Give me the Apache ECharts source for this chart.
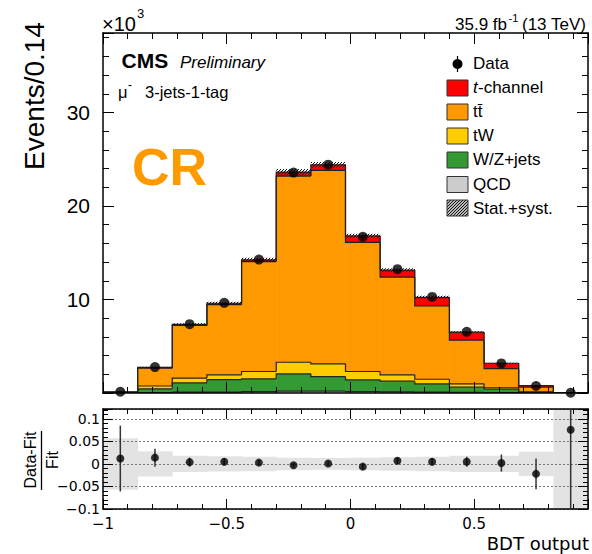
<!DOCTYPE html>
<html><head><meta charset="utf-8">
<script src="https://cdn.jsdelivr.net/npm/echarts@6/dist/echarts.min.js"></script>
<style>html,body{margin:0;padding:0;background:#fff}#c{width:592px;height:554px}</style>
</head><body><div id="c"></div>
<script>
// ---------------- data (values in units of 10^3 events) ----------------
const binEdges   = [-1, -0.86, -0.72, -0.58, -0.44, -0.30, -0.16, -0.02, 0.12, 0.26, 0.40, 0.54, 0.68, 0.82, 0.96];
const dataEvents = [0.13, 2.77, 7.36, 9.64, 14.27, 23.57, 24.42, 16.70, 13.24, 10.28, 6.54, 3.16, 0.75, 0.03];
const qcd        = [0.00, 0.05, 0.10, 0.10, 0.15, 0.20, 0.20, 0.15, 0.12, 0.10, 0.08, 0.05, 0.02, 0.00];
const wzJets     = [0.02, 0.40, 0.98, 1.34, 1.35, 1.85, 1.56, 1.26, 1.14, 0.88, 0.54, 0.36, 0.06, 0.005];
const tW         = [0.01, 0.30, 0.52, 0.50, 0.80, 1.24, 1.36, 0.89, 0.68, 0.49, 0.36, 0.15, 0.05, 0.005];
const ttbar      = [0.07, 1.91, 5.63, 7.51, 11.75, 19.91, 20.68, 13.80, 10.46, 7.85, 4.67, 2.04, 0.49, 0.01];
const tChannel   = [0.02, 0.07, 0.10, 0.15, 0.18, 0.43, 0.60, 0.70, 0.75, 0.91, 0.85, 0.58, 0.17, 0.008];
const uncRel     = [0.057, 0.028, 0.018, 0.017, 0.016, 0.014, 0.013, 0.014, 0.015, 0.016, 0.018, 0.018, 0.027, 1.0];
const ratioVals  = [0.012, 0.014, 0.004, 0.005, 0.003, -0.003, 0.001, -0.006, 0.007, 0.005, 0.005, 0.002, -0.022, 0.076];
const ratioErr   = [0.073, 0.020, 0.010, 0.008, 0.006, 0.005, 0.005, 0.006, 0.007, 0.008, 0.011, 0.019, 0.034, 0.6];

const yTickVals = [10, 20, 30];
const yTickLabels = ['10', '20', '30'];
const xTickVals = [-1, -0.5, 0, 0.5];
const xTickLabels = ['\u22121', '\u22120.5', '0', '0.5'];
const ratioTickVals = [-0.1, -0.05, 0, 0.05, 0.1];
const ratioTickLabels = ['\u22120.1', '\u22120.05', '0', '0.05', '0.1'];

const layerNames = ['QCD', 'W/Z+jets', 'tW', 'tt\u0304', 't-channel'];
const layerVals = [qcd, wzJets, tW, ttbar, tChannel];
const layerColors = ['#cccccc', '#339933', '#ffcc00', '#ff9900', '#ff0000'];

// ---------------- helpers ----------------
const nBins = binEdges.length - 1;
const centers = binEdges.slice(0, -1).map((e, i) => (e + binEdges[i + 1]) / 2);
const cum = [new Array(nBins).fill(0)];
layerVals.forEach((v, k) => cum.push(cum[k].map((c, i) => c + v[i])));
const total = cum[cum.length - 1];

function lookup(vals, labels, v) {
  for (let i = 0; i < vals.length; i++) if (Math.abs(vals[i] - v) < 1e-6) return labels[i];
  return '';
}
function hatch() {
  const c = document.createElement('canvas'); c.width = 3; c.height = 3;
  const g = c.getContext('2d');
  g.fillStyle = '#111';
  g.fillRect(0, 2, 1, 1); g.fillRect(1, 1, 1, 1); g.fillRect(2, 0, 1, 1);
  return { image: c.toDataURL(), repeat: 'repeat', imageWidth: 3, imageHeight: 3 };
}
const hatchFill = hatch();
const FONT = '"Liberation Sans", Arial, Helvetica, sans-serif';
const DJ = '"DejaVu Sans", sans-serif';

function axis(grid, pos, min, max, interval, len, extra) {
  return Object.assign({
    type: 'value', gridIndex: grid, position: pos, min: min, max: max, interval: interval, z: 10,
    axisLine: { show: false, onZero: false },
    axisTick: { show: true, inside: true, length: len, lineStyle: { color: '#000', width: 1 } },
    axisLabel: { show: false },
    splitLine: { show: false }
  }, extra || {});
}
const frameLine = { show: true, onZero: false, lineStyle: { color: '#000', width: 1.5 } };

const xAxes = [
  axis(0, 'bottom', -1, 0.96, 0.5, 11, { axisLine: frameLine }),
  axis(0, 'bottom', -1, 0.96, 0.1, 6),
  axis(0, 'top', -1, 0.96, 0.5, 11, { axisLine: frameLine }),
  axis(0, 'top', -1, 0.96, 0.1, 6),
  axis(1, 'bottom', -1, 0.96, 0.5, 10, { axisLine: frameLine,
    axisLabel: { show: true, margin: 7, color: '#000', fontFamily: DJ, fontSize: 15,
      formatter: v => lookup(xTickVals, xTickLabels, v) } }),
  axis(1, 'bottom', -1, 0.96, 0.1, 5),
  axis(1, 'top', -1, 0.96, 0.5, 10, { axisLine: frameLine }),
  axis(1, 'top', -1, 0.96, 0.1, 5)
];
const yAxes = [
  axis(0, 'left', 0, 38.5, 10, 11, { axisLine: frameLine,
    axisLabel: { show: true, margin: 13, color: '#000', fontFamily: FONT, fontSize: 21,
      formatter: v => lookup(yTickVals, yTickLabels, v) } }),
  axis(0, 'left', 0, 38.5, 2, 6),
  axis(0, 'right', 0, 38.5, 10, 11, { axisLine: frameLine }),
  axis(0, 'right', 0, 38.5, 2, 6),
  axis(1, 'left', -0.1, 0.122, 0.05, 10, { axisLine: frameLine,
    axisLabel: { show: true, margin: 3, color: '#000', fontFamily: DJ, fontSize: 14,
      formatter: v => lookup(ratioTickVals, ratioTickLabels, v) },
    splitLine: { show: true, lineStyle: { color: '#777', type: [2, 2], width: 1 } } }),
  axis(1, 'left', -0.1, 0.122, 0.01, 5),
  axis(1, 'right', -0.1, 0.122, 0.05, 10, { axisLine: frameLine }),
  axis(1, 'right', -0.1, 0.122, 0.01, 5)
];

const series = [];
// stacked fills
layerVals.forEach((vals, k) => {
  series.push({
    type: 'custom', name: layerNames[k], xAxisIndex: 0, yAxisIndex: 0, clip: true, z: 3,
    data: centers.map((c, i) => [c, vals[i]]),
    renderItem: (params, api) => {
      const i = params.dataIndex;
      const a = api.coord([binEdges[i], cum[k + 1][i]]);
      const b = api.coord([binEdges[i + 1], cum[k][i]]);
      return { type: 'rect', shape: { x: a[0], y: a[1], width: b[0] - a[0] + 0.4, height: b[1] - a[1] },
        style: { fill: layerColors[k], stroke: null } };
    }
  });
});
// outlines
layerVals.forEach((vals, k) => {
  series.push({
    type: 'custom', xAxisIndex: 0, yAxisIndex: 0, clip: true, z: 4, silent: true,
    data: centers.map((c, i) => [c, vals[i]]),
    renderItem: (params, api) => {
      const i = params.dataIndex;
      const prev = i > 0 ? cum[k + 1][i - 1] : 0;
      const p0 = api.coord([binEdges[i], prev]);
      const p1 = api.coord([binEdges[i], cum[k + 1][i]]);
      const p2 = api.coord([binEdges[i + 1], cum[k + 1][i]]);
      const pts = [p0, p1, p2];
      if (i === nBins - 1) pts.push(api.coord([binEdges[i + 1], 0]));
      return { type: 'polyline', shape: { points: pts }, style: { fill: null, stroke: '#222', lineWidth: 1.2 } };
    }
  });
});
// stat+syst hatched band
series.push({
  type: 'custom', name: 'Stat.+syst.', xAxisIndex: 0, yAxisIndex: 0, clip: true, z: 5,
  data: centers.map((c, i) => [c, total[i]]),
  renderItem: (params, api) => {
    const i = params.dataIndex;
    const a = api.coord([binEdges[i], total[i] * (1 + uncRel[i])]);
    const b = api.coord([binEdges[i + 1], Math.max(0, total[i] * (1 - uncRel[i]))]);
    return { type: 'rect', shape: { x: a[0], y: a[1], width: b[0] - a[0], height: b[1] - a[1] },
      style: { fill: hatchFill, stroke: null } };
  }
});
// data points
series.push({
  type: 'scatter', name: 'Data', xAxisIndex: 0, yAxisIndex: 0, z: 12,
  symbol: 'circle', symbolSize: 10, itemStyle: { color: '#000' },
  data: centers.map((c, i) => [c, dataEvents[i]])
});
// ratio band
series.push({
  type: 'custom', xAxisIndex: 4, yAxisIndex: 4, clip: true, z: 3,
  data: centers.map((c, i) => [c, 0]),
  renderItem: (params, api) => {
    const i = params.dataIndex;
    const a = api.coord([binEdges[i], uncRel[i]]);
    const b = api.coord([binEdges[i + 1], -uncRel[i]]);
    return { type: 'rect', shape: { x: a[0], y: a[1], width: b[0] - a[0] + 0.4, height: b[1] - a[1] },
      style: { fill: '#e3e3e3', stroke: null } };
  }
});
// ratio error bars
series.push({
  type: 'custom', xAxisIndex: 4, yAxisIndex: 4, clip: true, z: 11,
  data: centers.map((c, i) => [c, ratioVals[i]]),
  renderItem: (params, api) => {
    const i = params.dataIndex;
    const a = api.coord([centers[i], ratioVals[i] + ratioErr[i]]);
    const b = api.coord([centers[i], ratioVals[i] - ratioErr[i]]);
    return { type: 'line', shape: { x1: a[0], y1: a[1], x2: b[0], y2: b[1] },
      style: { stroke: '#333', lineWidth: 1.5 } };
  }
});
series.push({
  type: 'scatter', xAxisIndex: 4, yAxisIndex: 4, z: 12,
  symbol: 'circle', symbolSize: 8, itemStyle: { color: '#000' },
  data: centers.map((c, i) => [c, ratioVals[i]])
});

// ---------------- texts / legend ----------------
function txt(x, y, text, size, opts) {
  return Object.assign({ type: 'text', x: x, y: y, z: 100,
    style: Object.assign({ text: text, fill: '#000', fontSize: size, fontFamily: FONT,
      align: 'left', verticalAlign: 'middle' }, (opts && opts.style) || {}) },
    opts && opts.rotation !== undefined ? { rotation: opts.rotation } : {});
}
const legendRows = [
  { y: 88, k: 4 }, { y: 112, k: 3 }, { y: 136, k: 2 }, { y: 160, k: 1 }, { y: 184.5, k: 0 }
];
const graphics = [
  txt(102, 24, '\u00d710', 20),
  txt(137, 13, '3', 13),
  txt(455, 24.5, '35.9 fb', 17),
  txt(508.5, 18, '-1', 11),
  txt(522, 24.5, '(13 TeV)', 17),
  txt(121.5, 60.5, 'CMS', 21, { style: { fontWeight: 'bold' } }),
  txt(180, 62.5, 'Preliminary', 17, { style: { fontStyle: 'italic' } }),
  txt(118, 92, '\u03bc', 16.5),
  txt(128, 85, '-', 12),
  txt(145, 92, '3-jets-1-tag', 16.5),
  txt(132, 167, 'CR', 52, { style: { fontWeight: 'bold', fill: '#ff9900' } }),
  txt(34, 96, 'Events/0.14', 28, { rotation: Math.PI / 2, style: { align: 'center' } }),
  txt(30.5, 460, 'Data-Fit', 16, { rotation: Math.PI / 2, style: { align: 'center' } }),
  { type: 'line', z: 100, shape: { x1: 41.5, y1: 431, x2: 41.5, y2: 490 }, style: { stroke: '#000', lineWidth: 1.3 } },
  txt(52.5, 460, 'Fit', 16, { rotation: Math.PI / 2, style: { align: 'center' } }),
  txt(589, 543, 'BDT output', 18, { style: { align: 'right', fontFamily: DJ } }),
  // legend: data
  { type: 'circle', z: 100, shape: { cx: 457.5, cy: 64, r: 5 }, style: { fill: '#000' } },
  { type: 'line', z: 100, shape: { x1: 457.5, y1: 56, x2: 457.5, y2: 72 }, style: { stroke: '#000', lineWidth: 1.2 } },
  txt(473, 63, 'Data', 17)
];
legendRows.forEach(r => {
  graphics.push({ type: 'rect', z: 100, shape: { x: 447, y: r.y - 8, width: 21, height: 16 },
    style: { fill: layerColors[r.k], stroke: '#333', lineWidth: 1 } });
});
graphics.push({ type: 'rect', z: 100, shape: { x: 447, y: 200, width: 21, height: 16 },
  style: { fill: '#bbbbbb', stroke: null } });
graphics.push({ type: 'rect', z: 101, shape: { x: 447, y: 200, width: 21, height: 16 },
  style: { fill: hatchFill, stroke: '#333', lineWidth: 1 } });
graphics.push(txt(473, 87.5, 't', 17, { style: { fontStyle: 'italic' } }));
graphics.push(txt(478, 87.5, '-channel', 17));
graphics.push(txt(473, 111.5, layerNames[3], 17));
graphics.push(txt(473, 135.5, layerNames[2], 17));
graphics.push(txt(473, 159.5, layerNames[1], 17));
graphics.push(txt(473, 184, layerNames[0], 17));
graphics.push(txt(473, 208, 'Stat.+syst.', 17));

const chart = echarts.init(document.getElementById('c'), null, { renderer: 'svg' });
chart.setOption({
  animation: false,
  backgroundColor: '#fff',
  textStyle: { fontFamily: FONT },
  grid: [
    { left: 103, right: 4, top: 33, height: 360, containLabel: false },
    { left: 103, right: 4, top: 409, height: 100, containLabel: false }
  ],
  xAxis: xAxes,
  yAxis: yAxes,
  series: series,
  graphic: graphics
});
</script>
</body></html>
